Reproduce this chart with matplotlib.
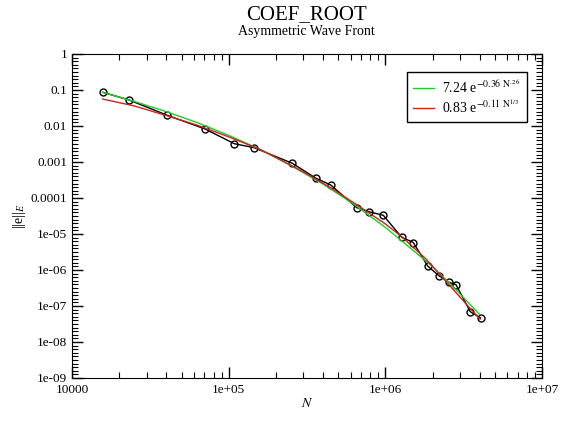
import matplotlib
matplotlib.use('Agg')
import matplotlib.pyplot as plt
from matplotlib.ticker import FixedLocator, LogLocator, NullFormatter
import numpy as np

plt.rcParams['font.family'] = 'Liberation Serif'
plt.rcParams['mathtext.fontset'] = 'stix'

# measured error vs number of unknowns
n_data = [15700, 23100, 40600, 70600, 108600, 145000, 254700, 360600, 447700,
          656000, 785700, 970000, 1.271e6, 1.507e6, 1.862e6, 2.208e6, 2.547e6,
          2.824e6, 3.483e6, 4.055e6]
err_data = [0.0863, 0.0528, 0.0198, 0.00826, 0.00322, 0.00250, 0.00092, 0.000353,
            0.00023, 5.4e-5, 4.16e-5, 3.3e-5, 8.1e-6, 5.8e-6, 1.29e-6, 6.8e-7,
            4.55e-7, 3.9e-7, 6.95e-8, 4.64e-8]

# fitted curves
n_fit_green = [15700, 25000, 40000, 63000, 100000, 160000, 250000, 400000, 630000,
               1e6, 1.6e6, 2.02e6, 2.57e6, 3.2e6, 4.0e6]
err_fit_green = [0.086, 0.048, 0.025, 0.0124, 0.0055, 0.0022, 7.9e-4, 2.44e-4,
                 6.7e-5, 1.52e-5, 2.8e-6, 1.2e-6, 4.3e-7, 1.6e-7, 5.8e-8]
n_fit_red = [15700, 25000, 40000, 63000, 100000, 160000, 285000, 450000, 659000,
             1e6, 1.27e6, 1.8e6, 2.56e6, 3.3e6, 4.02e6]
err_fit_red = [0.056, 0.036, 0.0195, 0.0105, 0.0050, 0.0022, 6.0e-4, 1.9e-4,
               6.4e-5, 1.9e-5, 8.4e-6, 2.1e-6, 3.8e-7, 1.1e-7, 4.3e-8]

label_green = r'7.24 e$^{-0.36\ \mathrm{N}^{.26}}$'
label_red = r'0.83 e$^{-0.11\ \mathrm{N}^{1/3}}$'

fig = plt.figure(figsize=(5.68, 4.23), dpi=100)
ax = fig.add_axes([0.1268, 0.1064, 0.8275, 0.766])

ax.plot(n_data, err_data, color='black', lw=1.0, marker='o', ms=5,
        mfc='none', mec='black', mew=1.0, zorder=2)
ax.plot(n_fit_green, err_fit_green, color='#22cc22', lw=1.0, label=label_green, zorder=3)
ax.plot(n_fit_red, err_fit_red, color='#cc2222', lw=1.0, label=label_red, zorder=4)

ax.set_xscale('log')
ax.set_yscale('log')
ax.set_xlim(1e4, 1e7)
ax.set_ylim(1e-9, 1)

# tick labels like the original
ax.set_xticks([1e4, 1e5, 1e6, 1e7])
ax.set_xticklabels(['10000', '1e+05', '1e+06', '1e+07'])
ax.xaxis.set_minor_locator(LogLocator(base=10, subs=np.arange(2, 10)))
ax.xaxis.set_minor_formatter(NullFormatter())

yt = [1, 0.1, 0.01, 0.001, 0.0001, 1e-5, 1e-6, 1e-7, 1e-8, 1e-9]
ax.set_yticks(yt)
ax.set_yticklabels(['1', '0.1', '0.01', '0.001', '0.0001', '1e-05', '1e-06',
                    '1e-07', '1e-08', '1e-09'])
yminor = [10.0 ** (d + j / 10) for d in range(-9, 0) for j in range(1, 10)]
ax.yaxis.set_minor_locator(FixedLocator(yminor))
ax.yaxis.set_minor_formatter(NullFormatter())

ax.tick_params(which='both', direction='in', top=True, right=True, labelsize=9.5)
ax.tick_params(which='major', length=8, width=1)
ax.tick_params(which='minor', length=4, width=0.8)
ax.tick_params(axis='x', pad=4)

ax.set_xlabel('$N$', fontsize=10, labelpad=1)
ax.set_ylabel(r'||e||$_E$', fontsize=10, labelpad=2)

fig.text(0.540, 0.965, 'COEF_ROOT', ha='center', va='center', fontsize=15)
fig.text(0.540, 0.926, 'Asymmetric Wave Front', ha='center', va='center', fontsize=10)

leg = ax.legend(loc='upper right', bbox_to_anchor=(0.968, 0.945), borderaxespad=0,
                fancybox=False, edgecolor='black', framealpha=1, fontsize=10,
                handlelength=1.5, handletextpad=0.6, borderpad=0.45,
                labelspacing=0.2)
leg.get_frame().set_linewidth(1.0)

fig.savefig('out.png', dpi=100)
